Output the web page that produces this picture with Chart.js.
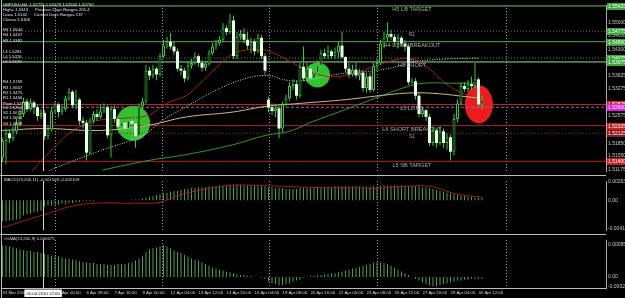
<!DOCTYPE html>
<html>
<head>
<meta charset="utf-8">
<script src="https://cdn.jsdelivr.net/npm/chart.js@4.4.1/dist/chart.umd.min.js"></script>
<style>
  html, body { margin: 0; padding: 0; background: #000; }
  #wrap { position: relative; width: 625px; height: 298px; overflow: hidden; background: #000; }
  canvas { position: absolute; left: 0; }
</style>
</head>
<body>
<div id="wrap">
  <canvas id="mainChart" width="625" height="176" style="top:0px"></canvas>
  <canvas id="macdChart" width="625" height="59" style="top:176px"></canvas>
  <canvas id="osmaChart" width="625" height="63" style="top:235px"></canvas>
</div>
<script>
// GBPUSD H4, 31 Mar - 30 Apr 2010
const firstOpen = 1.51500;
const gapOpens = { 76: 1.53000 };

const closes = [
  1.51925,1.52125,1.52000,1.52175,1.52375,1.52625,1.52950,1.52750,1.52925,1.52800,
  1.52575,1.52650,1.52050,1.52225,1.52700,1.52875,1.52675,1.52750,1.53025,1.53200,
  1.52850,1.53000,1.52450,1.52400,1.51625,1.52450,1.52625,1.52550,1.52700,1.52800,
  1.52075,1.52750,1.52500,1.52300,1.52400,1.52250,1.52450,1.52375,1.52050,1.52825,
  1.52950,1.53750,1.53625,1.53800,1.53650,1.54125,1.54400,1.54500,1.54375,1.54250,
  1.53800,1.53750,1.53550,1.53875,1.53950,1.54125,1.53950,1.53825,1.53925,1.54200,
  1.54375,1.54450,1.54550,1.54850,1.54750,1.55050,1.54125,1.54625,1.54700,1.54550,
  1.54400,1.54500,1.54250,1.54600,1.54125,1.53750,1.52800,1.52700,1.52775,1.52250,
  1.52875,1.53025,1.53350,1.53400,1.53100,1.53850,1.53550,1.53800,1.53550,1.53700,
  1.53875,1.54200,1.54125,1.54250,1.54125,1.54225,1.54400,1.54100,1.53800,1.53650,
  1.53775,1.53625,1.53700,1.53300,1.53600,1.53250,1.53875,1.53950,1.54450,1.54600,
  1.54700,1.54625,1.54500,1.54600,1.54450,1.54375,1.53450,1.53475,1.53100,1.52625,
  1.52725,1.52550,1.51875,1.52200,1.51875,1.52175,1.51875,1.52025,1.51650,1.52500,
  1.52900,1.53350,1.53275,1.53400,1.53350,1.53525,1.52875,1.53000
];
const highs = [
  1.52000,1.52250,1.52200,1.52300,1.52500,1.52750,1.53050,1.53025,1.53025,1.52975,
  1.52875,1.52750,1.52725,1.52350,1.52800,1.52950,1.52925,1.52850,1.53100,1.53300,
  1.53250,1.53250,1.53050,1.52550,1.52475,1.52525,1.52700,1.52750,1.52875,1.52900,
  1.52850,1.52825,1.52850,1.52575,1.52500,1.52475,1.52525,1.52550,1.52700,1.52900,
  1.53050,1.53900,1.53850,1.53900,1.53850,1.54200,1.54550,1.54625,1.54725,1.54500,
  1.54325,1.53900,1.53825,1.53975,1.54050,1.54225,1.54175,1.54025,1.54000,1.54275,
  1.54475,1.54550,1.54650,1.54975,1.54925,1.55225,1.55175,1.54750,1.54800,1.54850,
  1.54750,1.54600,1.54575,1.54700,1.54675,1.54200,1.53075,1.52900,1.52875,1.52850,
  1.52950,1.53125,1.53450,1.53525,1.53500,1.53950,1.54375,1.53950,1.53900,1.53800,
  1.54000,1.54300,1.54325,1.54400,1.54300,1.54350,1.54500,1.54750,1.54125,1.53950,
  1.53900,1.53950,1.53800,1.53750,1.53700,1.53700,1.53950,1.54050,1.54550,1.54750,
  1.55000,1.54800,1.54700,1.54700,1.54650,1.54550,1.54450,1.53550,1.53550,1.53200,
  1.52800,1.52750,1.52625,1.52300,1.52250,1.52300,1.52250,1.52125,1.52100,1.52625,
  1.53000,1.53450,1.53450,1.53500,1.53600,1.53950,1.53575,1.53100
];
const lows = [
  1.51375,1.51325,1.51875,1.51925,1.52100,1.52300,1.52550,1.52675,1.52700,1.52625,
  1.52450,1.52500,1.51950,1.51975,1.52175,1.52650,1.52550,1.52600,1.52700,1.52975,
  1.52775,1.52750,1.52350,1.52250,1.51425,1.51575,1.52375,1.52450,1.52500,1.52650,
  1.52000,1.51500,1.52400,1.52200,1.52225,1.52125,1.52175,1.52000,1.51750,1.52000,
  1.52750,1.52900,1.53500,1.53550,1.53500,1.53600,1.54075,1.54325,1.54300,1.54150,
  1.53725,1.53625,1.53450,1.53500,1.53800,1.53900,1.53850,1.53725,1.53750,1.53875,
  1.54150,1.54300,1.54400,1.54500,1.54675,1.54700,1.54050,1.54050,1.54550,1.54450,
  1.54300,1.54200,1.54150,1.54200,1.54050,1.53650,1.52675,1.52600,1.52550,1.52000,
  1.52150,1.52825,1.52975,1.53250,1.53000,1.53050,1.53475,1.53450,1.53450,1.53500,
  1.53575,1.53825,1.54050,1.54050,1.54050,1.54050,1.54075,1.54050,1.53700,1.53550,
  1.53600,1.53550,1.53500,1.53200,1.53175,1.53175,1.53200,1.53800,1.53900,1.54325,
  1.54500,1.54550,1.54400,1.54325,1.54375,1.54250,1.53375,1.53400,1.53000,1.52550,
  1.52550,1.52450,1.51800,1.51800,1.51750,1.51825,1.51750,1.51700,1.51425,1.51550,
  1.52400,1.52850,1.53200,1.53200,1.53250,1.53300,1.52800,1.52750
];

// moving averages, [bar index, price]
const maRed = [[8.5,1.51150],[13.3,1.51625],[19.1,1.52125],[24.8,1.52400],[30.5,1.52500],[36.2,1.52525],
  [41.9,1.52600],[46.8,1.52900],[52.5,1.53100],[56.2,1.53400],[61.1,1.53825],[65.6,1.54175],[69.1,1.54275],
  [74.2,1.54300],[78.2,1.54175],[81.9,1.54000],[86.2,1.53800],[91.3,1.53625],[96.2,1.53600],[101.9,1.53725],
  [107.6,1.53900],[113.3,1.54050],[117.6,1.54050],[121.9,1.53800],[126.2,1.53450],[130.5,1.53200],[135.6,1.53050]];
const maDots = [[12.1,1.51100],[15,1.51225],[27.9,1.51675],[40.1,1.52075],[45.9,1.52475],[52.7,1.52825],
  [60.1,1.53200],[68.7,1.53525],[75.6,1.53625],[81.3,1.53500],[87,1.53500],[93.6,1.53625],[99.3,1.53700],
  [106.4,1.53750],[113.6,1.53875],[117.3,1.53975],[126.4,1.54050],[135.9,1.54075]];
const maTan = [[-0.4,1.52200],[12.5,1.52250],[27.6,1.52200],[41.1,1.52325],[52.5,1.52550],[65.6,1.52675],
  [75.3,1.52825],[84.8,1.52900],[98.2,1.53000],[107.6,1.53100],[117.1,1.53175],[124.8,1.53150],[132.5,1.53075],[135.6,1.53050]];
const maGreen = [[28.5,1.51175],[41.9,1.51425],[52.5,1.51575],[65.6,1.51825],[75.3,1.52075],[81.9,1.52175],
  [88.5,1.52425],[98.2,1.52750],[107.6,1.53075],[115.3,1.53325],[120.5,1.53425],[127.6,1.53425],[135.6,1.53425]];

// pivot / camarilla levels
const levelPrices = [1.55425, 1.54775, 1.54500, 1.54075, 1.53975, 1.52875, 1.52800, 1.52325, 1.52125, 1.51400];
const levelNames = ['H5 LB TARGET', 'R2', 'H4 LONG BREAKOUT', 'R1', 'H3 SHORT', 'L3 LONG', '', 'L4 SHORT BREAKOUT', 'S1', 'L5 SB TARGET'];

// highlighted areas: bar index, price
const circleIdx = [37.3, 90, 136.1];
const circlePrice = [1.52388, 1.53638, 1.52875];

const priceTicks = [1.55000, 1.54650, 1.54300, 1.53625, 1.53275, 1.52575, 1.52200, 1.51850, 1.51550, 1.51175];

const macdVals = [
  -0.003,-0.003,-0.002875,-0.002875,-0.00275,-0.002625,
  -0.002125,-0.002,-0.001875,-0.00175,-0.001625,-0.0015,
  -0.000875,-0.00075,-0.00075,-0.000625,-0.000625,-0.0005,-0.0005,-0.000375,-0.000375,-0.00025,
  -0.00025,-0.000125,-0.000125,-0.000125,-0.000125,0,0,0,0,0,0,0,0,0,0,0.000125,0.000125,0.000125,
  0.00025,0.000375,0.0005,0.000625,0.00075,0.000875,0.001,0.001125,0.00125,0.001375,0.001375,0.0015,0.001625,0.001625,0.00175,0.00175,0.001875,
  0.001875,0.001875,0.002,0.002,0.002,0.002125,0.002125,0.002125,0.00225,0.00225,0.00225,0.00225,0.002125,0.002125,0.002125,0.002125,0.002,0.002,0.002,
  0.001875,0.001875,0.00175,0.00175,0.00175,0.001625,0.001625,0.001625,0.001625,0.00175,0.00175,0.00175,0.00175,0.00175,0.001875,
  0.001875,0.001875,0.001875,0.001875,0.002,0.002,0.002,0.002,0.002,0.002,0.002,0.002,0.002,0.002,0.002,0.002,0.002,
  0.002125,0.002125,0.002125,0.002125,0.002125,0.002125,0.002125,0.002125,0.002,0.002,0.002,0.002,0.001875,0.001875,
  0.00175,0.001625,0.0015,0.001375,0.00125,0.001125,0.001,0.000875,0.00075,0.000625,0.000625,0.0005,0.0005,0.000375,0.000375,0.000375
];
const macdSignal = [[0,-0.00392],[11.6,-0.0021],[23,-0.00056],[39,-0.00042],[45,-0.00029],[50,0.00065],[56,0.00139],
  [65,0.00211],[72,0.00213],[80,0.00199],[90,0.00182],[100,0.00176],[107,0.00169],[114,0.00196],[122,0.00199],
  [130,0.00086],[137,0.00043]];
const macdTicks = [0.0026, 0, -0.0041];
const macdTickText = ['0.002634', '0.00', '-0.004118'];

const osmaVals = [
  0.000918,0.000918,0.000891,0.000864,0.000837,0.000810,
  0.000783,0.000756,0.000756,0.000729,0.000729,0.000702,0.000675,
  0.000648,0.000621,0.000621,0.000594,0.000567,
  0.000540,0.000540,0.000513,0.000486,0.000459,
  0.000432,0.000432,0.000405,0.000405,0.000378,0.000378,
  0.000378,0.000351,0.000351,0.000351,0.000378,0.000378,0.000378,0.000405,0.000432,
  0.000486,0.000540,0.000621,
  0.000729,0.000810,0.000837,0.000864,0.000891,0.000918,
  0.000891,0.000837,0.000783,0.000729,
  0.000702,0.000648,0.000594,0.000540,0.000513,0.000486,
  0.000432,0.000378,0.000324,0.000270,0.000243,0.000216,0.000189,0.000162,0.000135,
  0.000108,0.000081,0.000054,0.000054,0.000027,0.000027,0,0,-0.000027,-0.000054,
  -0.000135,-0.000189,-0.000216,-0.000243,-0.000243,-0.000216,-0.000189,-0.000135,-0.000108,-0.000081,-0.000027,
  0,0.000027,0.000027,0.000054,0.000054,0.000081,0.000081,0.000108,0.000108,0.000135,
  0.000162,0.000189,0.000216,0.000243,0.000270,0.000297,0.000324,0.000351,0.000378,0.000405,
  0.000432,0.000432,0.000405,0.000378,0.000324,0.000270,0.000216,0.000162,0.000108,0.000054,
  0,-0.000054,-0.000108,-0.000162,-0.000216,-0.000243,-0.000270,-0.000270,-0.000243,-0.000216,
  -0.000189,-0.000162,-0.000135,-0.000108,-0.000108,-0.000081,-0.000081,-0.000054,-0.000054,-0.000054,-0.000054
];
const osmaTicks = [0.000955, 0, -0.00027];
const osmaTickText = ['0.000955', '0.00', '-0.000270'];

const timeIdx = [0, 8, 16, 24, 32, 40, 48, 56, 64, 72, 80, 88, 96, 104, 112, 120, 128, 136];
const timeLabels = ['31 Mar 2010', '1 Apr 16:00', '5 Apr 00:00', '6 Apr 08:00', '7 Apr 16:00', '9 Apr 00:00',
  '12 Apr 04:00', '13 Apr 12:00', '14 Apr 20:00', '16 Apr 04:00', '19 Apr 08:00', '20 Apr 16:00',
  '22 Apr 00:00', '23 Apr 08:00', '26 Apr 12:00', '27 Apr 20:00', '29 Apr 04:00', '30 Apr 12:00'];
const periodSeps = [15, 45.6, 76.1, 107, 143.9];
const crossIdx = 11.6;
const crossLabel = '01.04.2010 12:00';

const headerLines = ['GBPUSD,H4  1.52725 1.53129 1.52540 1.52750', 'High= 1.5343      Previous Days Range= 201.4',
  'Low= 1.5142      Current Days Range= 137', 'Close= 1.5306'];
const camLines = ['H5 1.5544', 'H4 1.5447', 'H3 1.5392', 'L3 1.5281', 'L4 1.5226', 'L5 1.5170'];
const pivotLines = ['R4 1.5759', 'R3 1.5607', 'R2 1.5475', 'R1 1.5406', 'Pivot 1.5274', 'S1 1.5204', 'S2 1.5072', 'S3 1.5000', 'S4 1.4868'];

// ---------- drawing setup ----------
Chart.defaults.font.family = 'Liberation Sans';
const FONT = '"Liberation Sans", Arial, sans-serif';
const xMin = -0.43, xMax = 172.43;

const levelStyle = [
  { c: '#62c462', d: [] }, { c: '#7a7a7a', d: [1, 2] }, { c: '#4fae4f', d: [] }, { c: '#7a7a7a', d: [1, 2] },
  { c: '#8fe08f', d: [] }, { c: '#c42a2a', d: [] }, { c: '#8a66b8', d: [3, 2] }, { c: '#a82424', d: [] },
  { c: '#8a2020', d: [1, 2] }, { c: '#b82222', d: [] }
];
const tagColor = ['#3aa83a', '#3aa83a', '#3aa83a', '#3aa83a', '#3aa83a', '#cc2020', '#e020e0', '#cc2020', '#8a1a1a', '#cc2020'];
const circleStyle = [
  { rx: 17, ry: 17.5, c: '#2fc42f' }, { rx: 12.5, ry: 12.5, c: '#2fc42f' }, { rx: 14, ry: 19, c: '#ee1c1c' }
];

const opens = closes.map((c, i) => i === 0 ? firstOpen : (gapOpens[i] !== undefined ? gapOpens[i] : closes[i - 1]));
const bull = closes.map((c, i) => c >= opens[i]);

function clipArea(chart) {
  const { ctx, chartArea: ca } = chart;
  ctx.beginPath();
  ctx.rect(ca.left, ca.top, ca.right - ca.left, ca.bottom - ca.top);
  ctx.clip();
}

function drawSeps(chart) {
  const { ctx, chartArea: ca, scales: { x } } = chart;
  ctx.save();
  clipArea(chart);
  ctx.strokeStyle = '#a0a0a0';
  ctx.lineWidth = 1;
  ctx.setLineDash([1, 2]);
  periodSeps.forEach(v => {
    const px = Math.round(x.getPixelForValue(v)) + 0.5;
    ctx.beginPath(); ctx.moveTo(px, ca.top); ctx.lineTo(px, ca.bottom); ctx.stroke();
  });
  ctx.restore();
}

function drawCross(chart) {
  const { ctx, chartArea: ca, scales: { x } } = chart;
  const px = Math.round(x.getPixelForValue(crossIdx)) + 0.5;
  ctx.save();
  ctx.strokeStyle = '#d4d4d4';
  ctx.lineWidth = 1;
  ctx.beginPath(); ctx.moveTo(px, ca.top); ctx.lineTo(px, ca.bottom); ctx.stroke();
  ctx.restore();
}

function drawFrame(chart, sepY) {
  const { ctx, chartArea: ca } = chart;
  ctx.save();
  ctx.strokeStyle = '#bdbdbd';
  ctx.lineWidth = 1;
  ctx.beginPath(); ctx.moveTo(1.5, 0); ctx.lineTo(1.5, chart.height); ctx.stroke();
  if (sepY !== null) {
    ctx.beginPath(); ctx.moveTo(0, sepY); ctx.lineTo(ca.right, sepY); ctx.stroke();
  }
  ctx.restore();
}

function panelTitle(chart, text) {
  const { ctx } = chart;
  ctx.save();
  ctx.fillStyle = '#d8d8d8';
  ctx.font = '4.3px ' + FONT;
  ctx.textBaseline = 'middle';
  ctx.fillText(text, 4, 4);
  ctx.restore();
}

const mainPlugin = {
  id: 'mainDecor',
  beforeDatasetsDraw(chart) {
    const { ctx, scales: { x, y } } = chart;
    ctx.save();
    clipArea(chart);
    circleIdx.forEach((ix, k) => {
      const s = circleStyle[k];
      ctx.beginPath();
      ctx.ellipse(x.getPixelForValue(ix), y.getPixelForValue(circlePrice[k]), s.rx, s.ry, 0, 0, Math.PI * 2);
      ctx.fillStyle = s.c;
      ctx.fill();
    });
    ctx.restore();
    drawSeps(chart);
  },
  afterDatasetsDraw(chart) {
    const { ctx, scales: { x, y } } = chart;
    drawCross(chart);
    ctx.save();
    // level names on the lines
    ctx.textAlign = 'center';
    ctx.textBaseline = 'top';
    ctx.fillStyle = '#a9a9a9';
    const lx = x.getPixelForValue(117);
    levelNames.forEach((t, k) => {
      if (!t) return;
      ctx.font = (t.length <= 2 ? '4.5px ' : '5.6px ') + FONT;
      ctx.fillText(t, lx, y.getPixelForValue(levelPrices[k]) + 1);
    });
    // info text top-left
    ctx.textAlign = 'left';
    ctx.textBaseline = 'middle';
    ctx.fillStyle = '#e2e2e2';
    ctx.font = '4.2px ' + FONT;
    const headY = [5, 10, 15, 20];
    headerLines.forEach((t, k) => ctx.fillText(t, 3, headY[k]));
    const camY = [30, 35, 41, 52, 57, 62];
    camLines.forEach((t, k) => ctx.fillText(t, 3, camY[k]));
    const pivY = [82, 88, 93, 98, 104, 108, 113, 118, 124];
    pivotLines.forEach((t, k) => ctx.fillText(t, 3, pivY[k]));
    ctx.restore();
  },
  afterDraw(chart) {
    const { ctx, chartArea: ca, scales: { y } } = chart;
    drawFrame(chart, 175.5);
    ctx.save();
    ctx.font = '5px ' + FONT;
    ctx.textBaseline = 'middle';
    levelPrices.forEach((p, k) => {
      const py = Math.round(y.getPixelForValue(p));
      ctx.fillStyle = tagColor[k];
      ctx.fillRect(ca.right + 1, py - 3, 30, 7);
      ctx.fillStyle = '#ffffff';
      ctx.fillText(p.toFixed(5), ca.right + 2, py + 0.5);
    });
    ctx.restore();
  }
};

const subPlugin = (title, sepY, withAxisBox) => ({
  id: 'subDecor',
  beforeDatasetsDraw(chart) { drawSeps(chart); },
  afterDatasetsDraw(chart) { drawCross(chart); panelTitle(chart, title); },
  afterDraw(chart) {
    drawFrame(chart, sepY);
    if (withAxisBox) {
      const { ctx, chartArea: ca, scales: { x } } = chart;
      const px = x.getPixelForValue(crossIdx);
      ctx.save();
      ctx.font = '4.3px ' + FONT;
      const w = ctx.measureText(crossLabel).width + 4;
      ctx.fillStyle = '#ffffff';
      ctx.fillRect(px - w / 2, ca.bottom + 1.5, w, 7.5);
      ctx.fillStyle = '#000000';
      ctx.textAlign = 'center';
      ctx.textBaseline = 'middle';
      ctx.fillText(crossLabel, px, ca.bottom + 5.5);
      ctx.restore();
    }
  }
});

function yAxis(min, max, tickVals, fmt) {
  return {
    position: 'right', min: min, max: max,
    afterFit: s => { s.width = 19; },
    afterBuildTicks: s => { s.ticks = tickVals.map(v => ({ value: v })); },
    ticks: { color: '#c8c8c8', font: { size: 5 }, padding: 2, callback: fmt },
    grid: { display: false, drawTicks: false, tickLength: 0 },
    border: { display: true, color: '#a8a8a8', width: 1 }
  };
}

const baseOpts = (padding) => ({
  responsive: false,
  animation: false,
  events: [],
  layout: { padding: padding },
  plugins: { legend: { display: false }, tooltip: { enabled: false } }
});

const lineDs = (pts, color, dash, order) => ({
  type: 'line',
  data: pts.map(p => ({ x: p[0], y: p[1] })),
  borderColor: color, borderWidth: 1, borderDash: dash,
  pointRadius: 0, tension: 0.4, fill: false, order: order
});

// ---------- main price chart ----------
const levelSets = levelPrices.map((p, k) => ({
  type: 'line',
  data: [{ x: xMin, y: p }, { x: xMax, y: p }],
  borderColor: levelStyle[k].c, borderWidth: 1, borderDash: levelStyle[k].d,
  pointRadius: 0, fill: false, order: 60
}));

new Chart(document.getElementById('mainChart'), {
  type: 'bar',
  data: {
    datasets: [
      ...levelSets,
      lineDs(maTan, '#cbbb8c', [], 50),
      lineDs(maGreen, '#2e9a2e', [], 50),
      lineDs(maRed, '#aa1c1c', [], 50),
      lineDs(maDots, '#d8d8d8', [1, 1.5], 50),
      {
        type: 'bar', grouped: false, order: 21,
        data: closes.map((c, i) => ({ x: i, y: [lows[i], highs[i]] })),
        backgroundColor: '#38c838', barThickness: 1, borderWidth: 0, inflateAmount: 0
      },
      {
        type: 'bar', grouped: false, order: 20,
        data: closes.map((c, i) => ({ x: i, y: [opens[i], c] })),
        backgroundColor: ctx => bull[ctx.dataIndex] ? '#000000' : '#ecffec',
        borderColor: '#38c838',
        borderWidth: ctx => bull[ctx.dataIndex] ? 1 : 0,
        borderSkipped: false, barThickness: 3, inflateAmount: 0
      }
    ]
  },
  options: {
    ...baseOpts({ top: 2, bottom: 2, left: 1, right: 0 }),
    scales: {
      x: { type: 'linear', min: xMin, max: xMax, display: false, offset: false },
      y: yAxis(1.51150, 1.55450, priceTicks, v => v.toFixed(5))
    }
  },
  plugins: [mainPlugin]
});

// ---------- MACD panel ----------
new Chart(document.getElementById('macdChart'), {
  type: 'bar',
  data: {
    datasets: [
      lineDs(macdSignal, '#a01c1c', [], 5),
      {
        type: 'bar', grouped: false, order: 10,
        data: macdVals.map((v, i) => ({ x: i, y: v })),
        backgroundColor: '#4c9e4c', barThickness: 1, borderWidth: 0, inflateAmount: 0
      }
    ]
  },
  options: {
    ...baseOpts({ top: 1, bottom: 2, left: 1, right: 0 }),
    scales: {
      x: { type: 'linear', min: xMin, max: xMax, display: false, offset: false },
      y: yAxis(-0.00425, 0.00275, macdTicks, (v, i) => macdTickText[i])
    }
  },
  plugins: [subPlugin('MACD(13,200,11) -0.001509 -0.002109', 58.5, false)]
});

// ---------- OsMA panel with time axis ----------
new Chart(document.getElementById('osmaChart'), {
  type: 'bar',
  data: {
    datasets: [{
      type: 'bar', grouped: false,
      data: osmaVals.map((v, i) => ({ x: i, y: v })),
      backgroundColor: '#4c9e4c', barThickness: 1, borderWidth: 0, inflateAmount: 0
    }]
  },
  options: {
    ...baseOpts({ top: 1, bottom: 0, left: 1, right: 0 }),
    scales: {
      x: {
        type: 'linear', min: xMin, max: xMax, offset: false,
        afterFit: s => { s.height = 10; },
        afterBuildTicks: s => { s.ticks = timeIdx.map(v => ({ value: v })); },
        ticks: {
          color: '#d8d8d8', font: { size: 4.3 }, padding: 2, align: 'start',
          autoSkip: false, maxRotation: 0, minRotation: 0,
          callback: (v, i) => timeLabels[i]
        },
        grid: { display: false, drawTicks: false, tickLength: 0 },
        border: { display: true, color: '#bdbdbd', width: 1 }
      },
      y: yAxis(-0.000324, 0.00108, osmaTicks, (v, i) => osmaTickText[i])
    }
  },
  plugins: [subPlugin('OsMA(13,200,9) 0.000675', null, true)]
});
</script>
</body>
</html>
